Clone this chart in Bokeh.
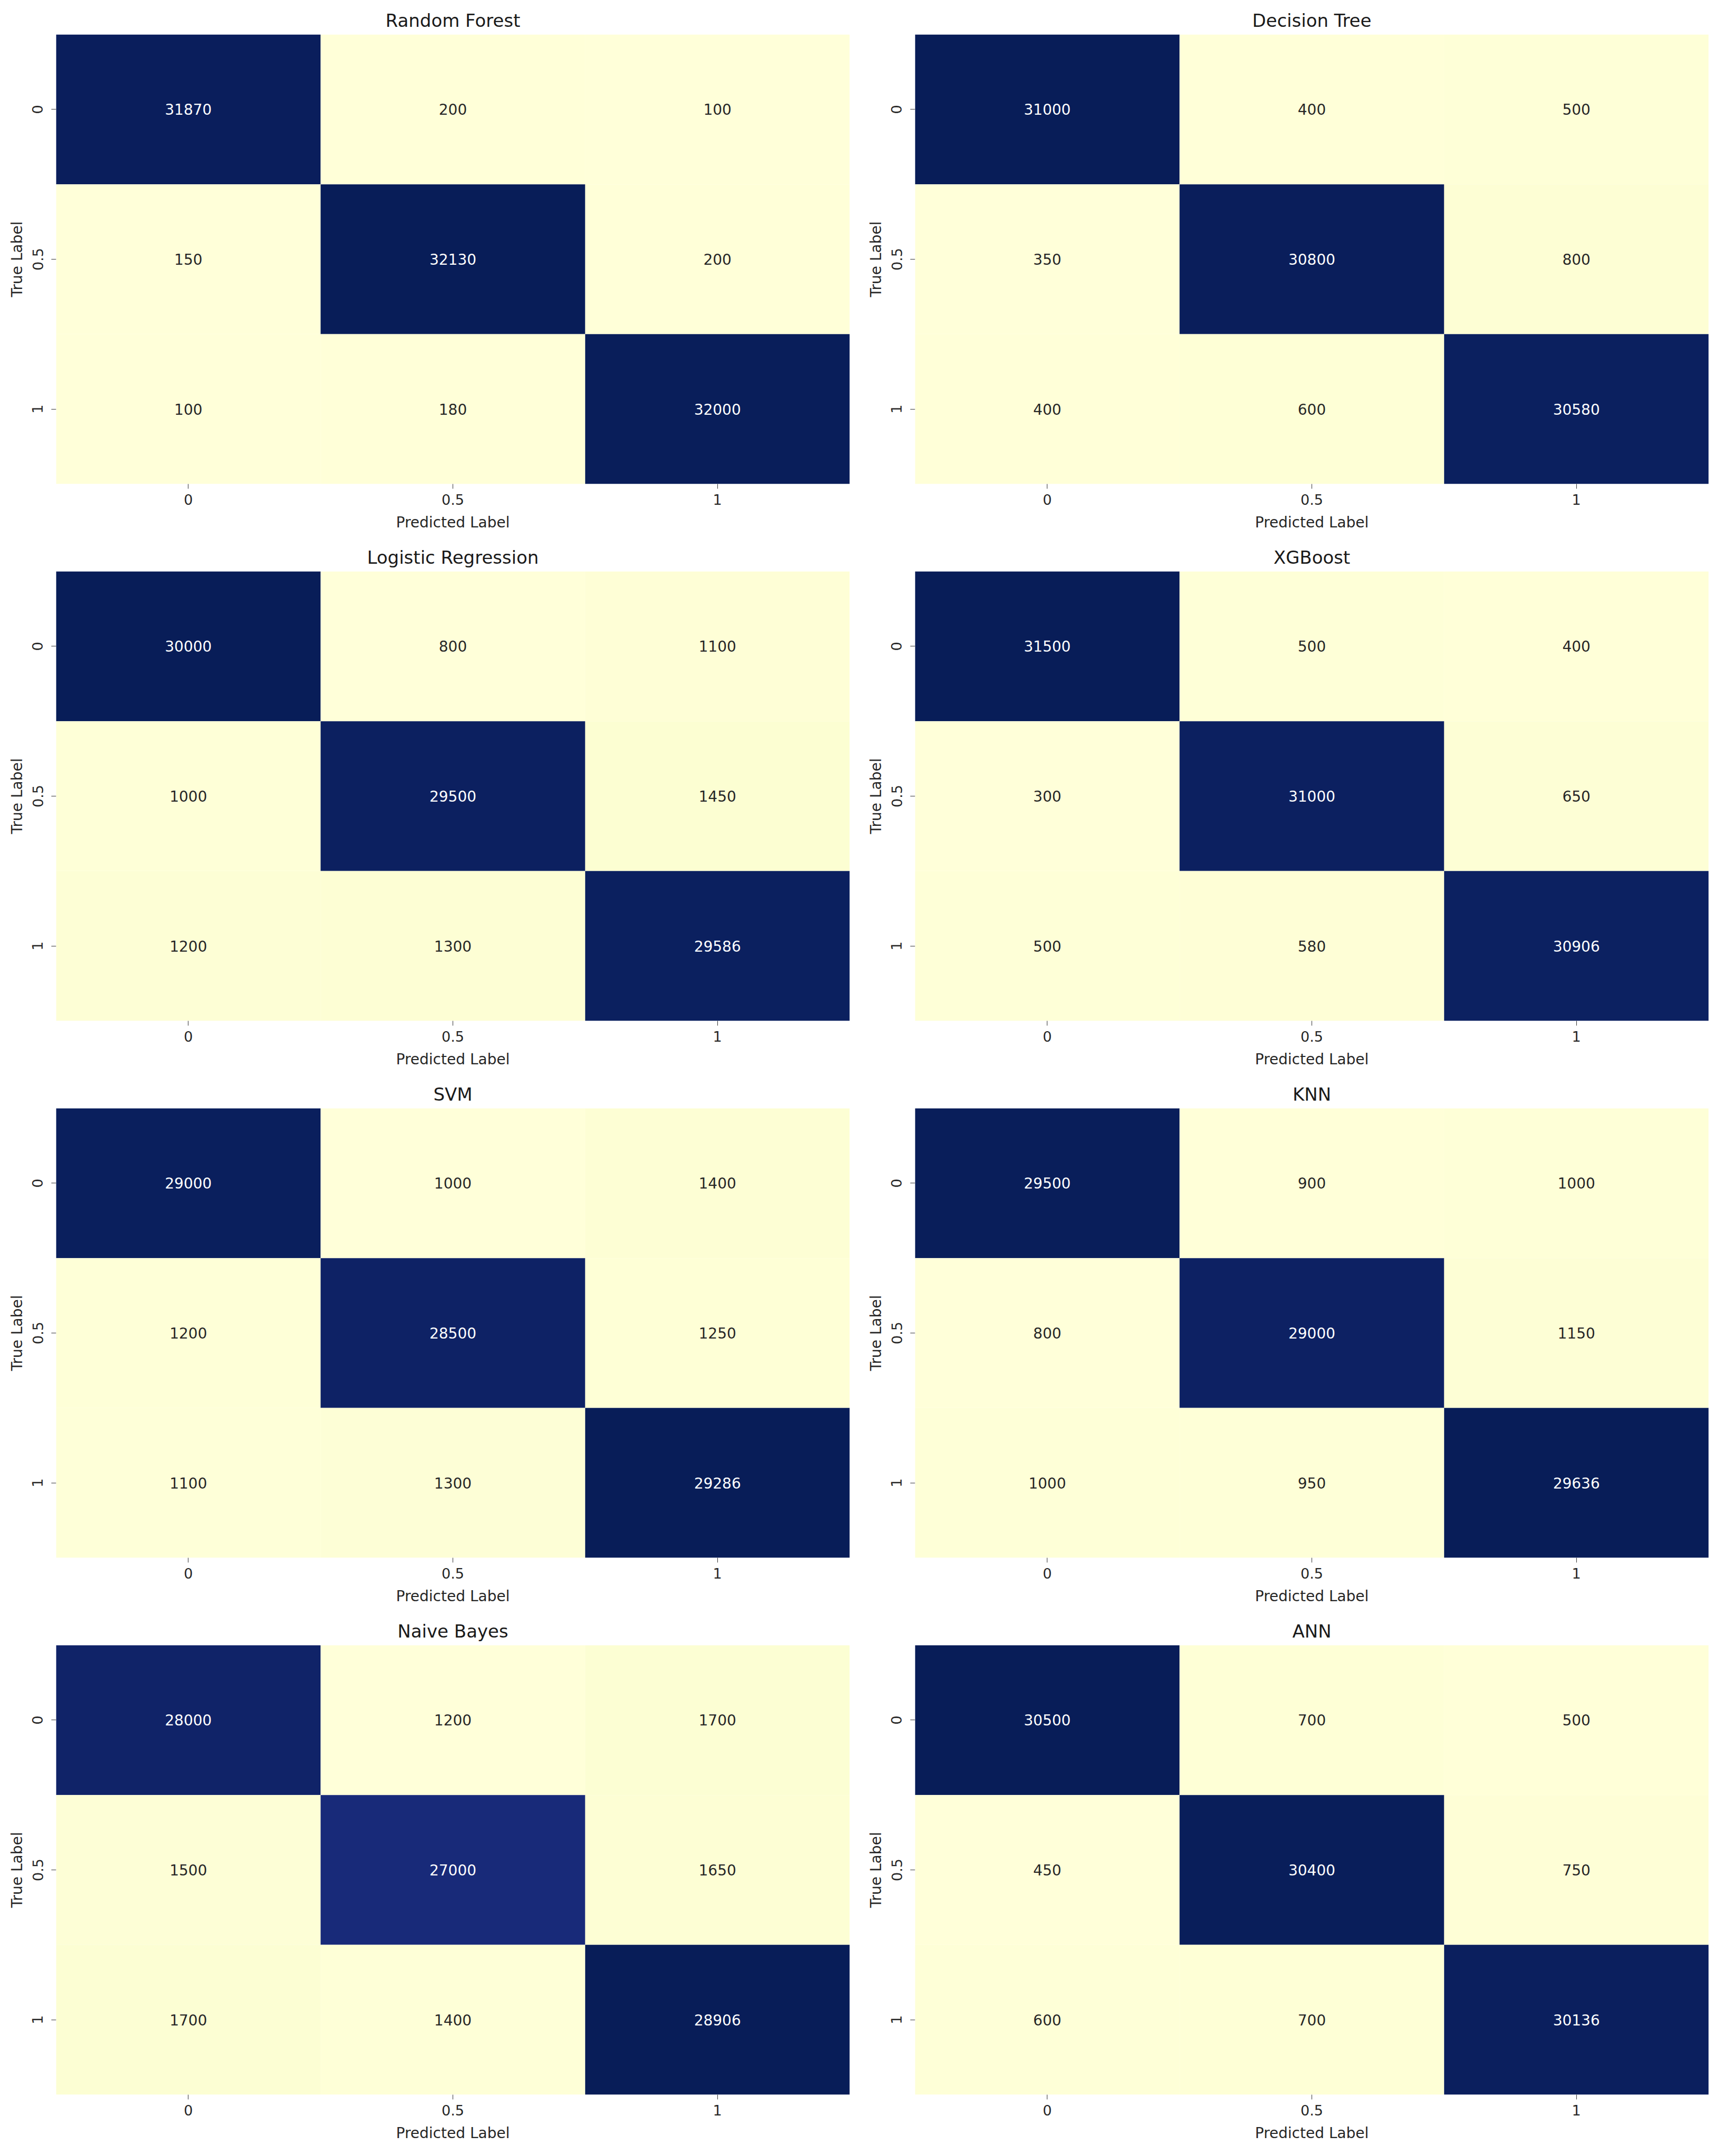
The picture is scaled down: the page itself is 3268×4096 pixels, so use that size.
import numpy as np
from bokeh.plotting import figure
from bokeh.layouts import gridplot
from bokeh.models import ColumnDataSource
from bokeh.core.properties import value
from bokeh.embed import file_html
from bokeh.resources import INLINE

# ---- data ----
class_labels = ["0", "0.5", "1"]
model_names = ["Random Forest", "Decision Tree", "Logistic Regression", "XGBoost",
               "SVM", "KNN", "Naive Bayes", "ANN"]
random_forest = [[31870, 200, 100], [150, 32130, 200], [100, 180, 32000]]
decision_tree = [[31000, 400, 500], [350, 30800, 800], [400, 600, 30580]]
logistic_regression = [[30000, 800, 1100], [1000, 29500, 1450], [1200, 1300, 29586]]
xgboost = [[31500, 500, 400], [300, 31000, 650], [500, 580, 30906]]
svm = [[29000, 1000, 1400], [1200, 28500, 1250], [1100, 1300, 29286]]
knn = [[29500, 900, 1000], [800, 29000, 1150], [1000, 950, 29636]]
naive_bayes = [[28000, 1200, 1700], [1500, 27000, 1650], [1700, 1400, 28906]]
ann = [[30500, 700, 500], [450, 30400, 750], [600, 700, 30136]]
matrices = [random_forest, decision_tree, logistic_regression, xgboost,
            svm, knn, naive_bayes, ann]

# YlGnBu anchors
YLGNBU = ["#ffffd9", "#edf8b1", "#c7e9b4", "#7fcdbb", "#41b6c4",
          "#1d91c0", "#225ea8", "#253494", "#081d58"]


def hex2rgb(h):
    return np.array([int(h[i:i + 2], 16) for i in (1, 3, 5)], dtype=float)


ANCH = np.array([hex2rgb(h) for h in YLGNBU])


def cmap(t):
    t = min(max(t, 0.0), 1.0)
    pos = t * (len(ANCH) - 1)
    i = int(np.floor(pos))
    if i >= len(ANCH) - 1:
        c = ANCH[-1]
    else:
        f = pos - i
        c = ANCH[i] * (1 - f) + ANCH[i + 1] * f
    return c


def luminance(c):
    rgb = c / 255.0
    rgb = np.where(rgb <= 0.03928, rgb / 12.92, ((rgb + 0.055) / 1.055) ** 2.4)
    return 0.2126 * rgb[0] + 0.7152 * rgb[1] + 0.0722 * rgb[2]


FONT = "DejaVu Sans"
plots = []
for k, (name, mat) in enumerate(zip(model_names, matrices)):
    m = np.array(mat, dtype=float)
    vmin, vmax = m.min(), m.max()
    xs, ys, cols, txt, tcol = [], [], [], [], []
    for r, tl in enumerate(class_labels):
        for c, pl in enumerate(class_labels):
            v = m[r, c]
            rgb = cmap((v - vmin) / (vmax - vmin))
            xs.append(pl)
            ys.append(tl)
            cols.append("#%02x%02x%02x" % tuple(int(round(x)) for x in rgb))
            txt.append(str(int(v)))
            tcol.append("#262626" if luminance(rgb) > 0.408 else "#ffffff")
    src = ColumnDataSource(dict(x=xs, y=ys, color=cols, text=txt, tcolor=tcol))

    left_col = (k % 2 == 0)
    p = figure(x_range=class_labels, y_range=list(reversed(class_labels)),
               frame_width=1508, frame_height=854,
               min_border_left=106 if left_col else 112,
               min_border_right=12 if left_col else 6,
               min_border_top=65, min_border_bottom=101,
               output_backend="svg", toolbar_location=None, title=name)
    p.rect(x="x", y="y", width=1, height=1, source=src,
           fill_color="color", line_color=None)
    p.text(x="x", y="y", text="text", source=src, text_color="tcolor",
           text_align="center", text_baseline="middle",
           text_font=value(FONT), text_font_size="28px")

    p.title.align = "center"
    p.title.text_font = FONT
    p.title.text_font_size = "34px"
    p.title.text_font_style = "normal"
    p.title.text_color = "#1a1a1a"
    p.title.standoff = 14

    p.outline_line_color = None
    p.grid.grid_line_color = None
    for ax in (p.xaxis[0], p.yaxis[0]):
        ax.axis_line_color = None
        ax.major_tick_in = 0
        ax.major_tick_out = 9
        ax.major_tick_line_color = "#333333"
        ax.major_label_text_font = FONT
        ax.major_label_text_font_size = "27px"
        ax.major_label_text_color = "#262626"
        ax.axis_label_text_font = FONT
        ax.axis_label_text_font_size = "28px"
        ax.axis_label_text_font_style = "normal"
        ax.axis_label_text_color = "#262626"
    p.xaxis.axis_label = "Predicted Label"
    p.yaxis.axis_label = "True Label"
    p.xaxis.major_label_standoff = 10
    p.yaxis.major_label_standoff = 16
    p.yaxis.major_label_orientation = "vertical"
    p.xaxis.axis_label_standoff = 14
    p.yaxis.axis_label_standoff = 10
    p.background_fill_color = "white"
    p.border_fill_color = "white"
    plots.append(p)

grid = gridplot([plots[i:i + 2] for i in range(0, 8, 2)], toolbar_location=None)

open("out.html", "w").write(file_html(grid, INLINE))
